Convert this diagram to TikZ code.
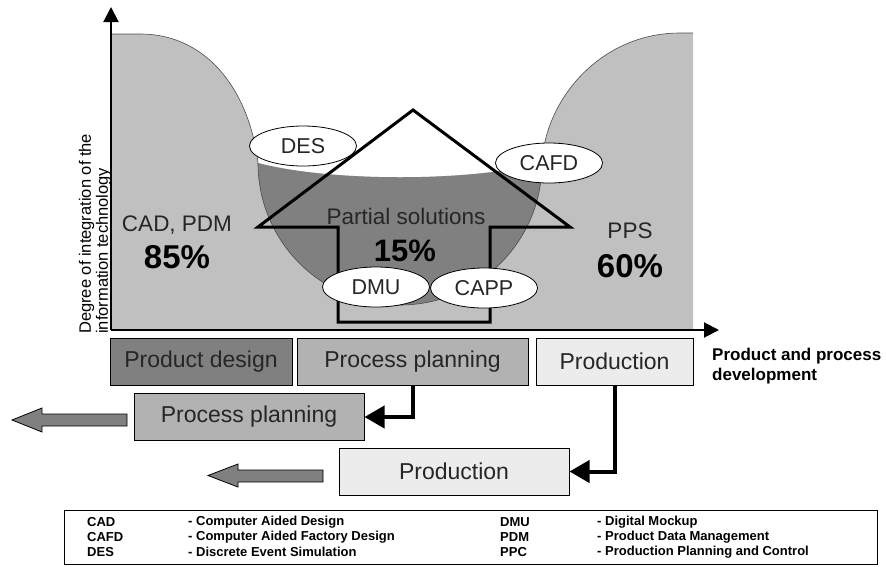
\documentclass[tikz,border=0pt]{standalone}
\usepackage{fontspec}
\setmainfont{Liberation Sans}
\usetikzlibrary{positioning, shapes.geometric, arrows.meta}
\definecolor{xlight}{HTML}{C0C0C0}
\definecolor{xdark}{HTML}{808080}
\definecolor{xmid}{HTML}{B2B2B2}
\definecolor{xpale}{HTML}{ECECEC}
\newcommand{\fs}[1]{\fontsize{#1}{#1}\selectfont}
\tikzset{
	axis/.style={line width=2pt, -{Triangle[length=15pt,width=15pt]}},
	rim/.style={line width=0.6pt, draw=black!70},
	house/.style={line width=3pt, line join=miter},
	tool/.style={ellipse, draw, line width=0.8pt, fill=white, minimum width=107pt, minimum height=40pt, inner sep=0pt, font=\fs{21.5}, text=black!85},
	phase/.style={draw, line width=1pt, minimum height=47pt, inner sep=0pt, font=\fs{23}, text=black!85},
	share/.style={font=\fs{22.5}, text=black!85},
	value/.style={font=\fs{33}\bfseries},
	link/.style={line width=4pt, -{Triangle[length=20pt,width=22pt]}},
	back/.style={draw, line width=0.8pt, fill=xdark},
	legend/.style={anchor=west, inner sep=0pt, font=\fs{13}\bfseries},
}

\begin{document}
\begin{tikzpicture}[x=1pt, y=-1pt]
	\useasboundingbox (0,0) rectangle (886,566);

	% share of integration
	\fill[xlight] (111,330) -- (111,34) -- (140,34)
		.. controls (210,34) and (250,95) .. (258,163)
		.. controls (330,182) and (470,182) .. (542,163)
		.. controls (545,100) and (600,33) .. (680,33)
		-- (693,33) -- (693,330) -- cycle;
	\fill[xdark] (258,163) .. controls (330,182) and (470,182) .. (542,163)
		arc[start angle=0, end angle=-180, radius=142pt];
	\draw[rim] (111,34) -- (140,34) .. controls (210,34) and (250,95) .. (258,163);
	\draw[rim] (693,33) -- (680,33) .. controls (600,33) and (545,100) .. (542,163);
	\draw[rim] (542,163) arc[start angle=0, end angle=-180, radius=142pt];

	% axes
	\coordinate (origin) at (111,330);
	\coordinate (ytip) at (111,7);
	\coordinate (xtip) at (719,330);
	\draw[axis] (origin) -- (ytip);
	\draw[axis] (origin) -- (xtip);
	\node[rotate=90, anchor=west, align=left, font=\fontsize{16.5}{17}\selectfont, inner sep=0pt] (ylbl) at (95,334)
		{Degree of integration of the\\information technology};
	\node[anchor=west, align=left, font=\fontsize{17}{20}\selectfont\bfseries, inner sep=0pt] (xlbl) at (712,366)
		{Product and process\\development};

	% big arrow
	\draw[house] (338,322) -- (338,227) -- (258,227) -- (413,110) -- (570,227)
		-- (490,227) -- (490,322) -- cycle;

	% shares
	\node[share] (cad) at (177,225) {CAD, PDM};
	\node[value] (cadval) at (177,257) {85\%};
	\node[share] (part) at (406,216) {Partial solutions};
	\node[value, font=\fs{31}\bfseries] (partval) at (405,251) {15\%};
	\node[share] (pps) at (630,231) {PPS};
	\node[value] (ppsval) at (630,266) {60\%};

	% partial tools
	\node[tool] (des) at (303,146) {DES};
	\node[tool] (cafd) at (549,163) {CAFD};
	\node[tool] (dmu) at (376,287) {DMU};
	\node[tool] (capp) at (484,288) {CAPP};

	% phases
	\node[phase, fill=xdark, minimum width=182pt] (design) at (201,361.5) {Product design};
	\node[phase, fill=xmid, minimum width=231pt] (plan) at (412.5,361.5) {Process planning};
	\node[phase, fill=xpale, minimum width=157pt] (prod) at (614.5,361.5) {Production};
	\node[phase, fill=xmid, minimum width=230pt] (plan2) at (249,417) {Process planning};
	\node[phase, fill=xpale, minimum width=230pt] (prod2) at (454,471.5) {Production};

	\draw[link] (plan.south) |- (plan2.east);
	\draw[link] (prod.south) |- (prod2.east);

	\draw[back] (127,414) -- (42,414) -- (42,408) -- (12,420) -- (42,432) -- (42,426) -- (127,426) -- cycle;
	\draw[back] (323,470) -- (238,470) -- (238,464) -- (208,475.5) -- (238,487) -- (238,482) -- (323,482) -- cycle;

	% legend
	\draw[line width=0.8pt] (64,510) rectangle (877,564);
	\foreach \abbr/\desc/\row [count=\i] in {CAD/Computer Aided Design/522, CAFD/Computer Aided Factory Design/537, DES/Discrete Event Simulation/552}
		{\node[legend] (la\i) at (87,\row) {\abbr};
		 \node[legend] (ld\i) at (188,\row) {- \desc};}
	\foreach \abbr/\desc/\row [count=\i] in {DMU/Digital Mockup/522, PDM/Product Data Management/537, PPC/Production Planning and Control/552}
		{\node[legend] (ra\i) at (500,\row) {\abbr};
		 \node[legend] (rd\i) at (597,\row) {- \desc};}
\end{tikzpicture}
\end{document}
